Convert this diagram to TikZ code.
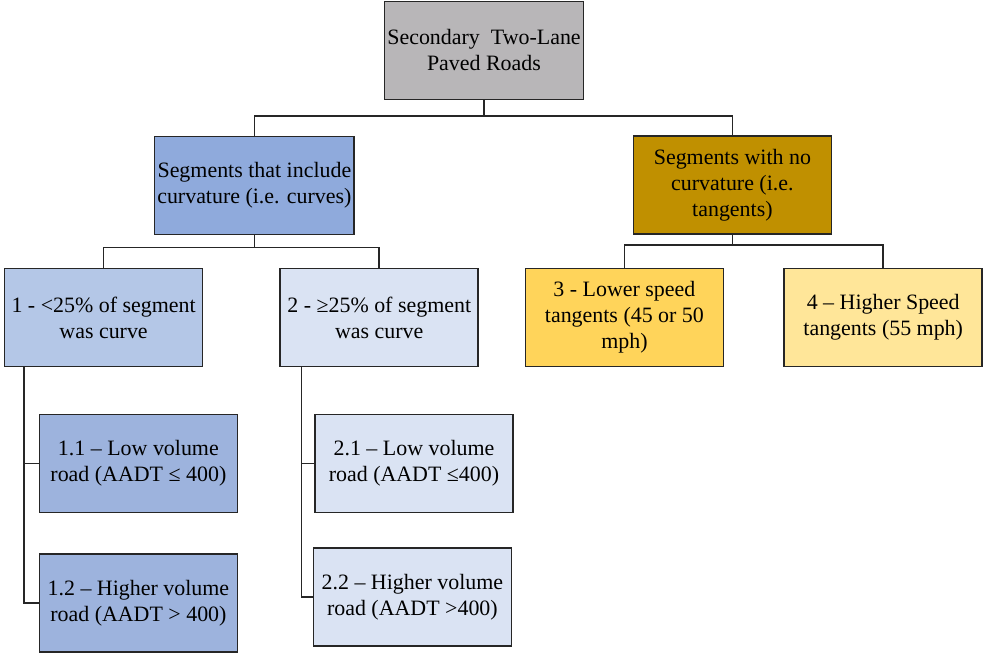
\documentclass[tikz,border=0pt]{standalone}
\usepackage{fontspec}
\setmainfont{Liberation Serif}
\usepackage{xcolor}

\definecolor{gris}{HTML}{B8B6B8}
\definecolor{azul}{HTML}{8FAADC}
\definecolor{azulclaro}{HTML}{B4C7E7}
\definecolor{azulpalido}{HTML}{DAE3F3}
\definecolor{azulmedio}{HTML}{9DB3DD}
\definecolor{oro}{HTML}{C09000}
\definecolor{amarillo}{HTML}{FFD45A}
\definecolor{amarilloclaro}{HTML}{FFE699}

\begin{document}
\begin{tikzpicture}[
    caja/.style={rectangle, draw=black!85, line width=1.2pt, align=center,
                 minimum width=4.95cm, minimum height=2.45cm, inner sep=2pt,
                 font=\fontsize{15.6}{18.5}\selectfont},
    linea/.style={draw=black!85, line width=1.1pt}]
    \useasboundingbox (0,0) rectangle (24.6,-16.325);

    % Nodos
    \node[caja, fill=gris] (R) at (12.1,-1.26) {Secondary\hspace{0.5em}Two-Lane\\Paved Roads};
    \node[caja, fill=azul] (C) at (6.36,-4.64) {Segments that include\\curvature (i.e. curves)};
    \node[caja, fill=oro] (T) at (18.31,-4.63) {Segments with no\\curvature (i.e.\\tangents)};

    \node[caja, fill=azulclaro] (C1) at (2.59,-7.94) {1 - <25\% of segment\\was curve};
    \node[caja, fill=azulpalido] (C2) at (9.48,-7.94) {2 - ≥25\% of segment\\was curve};
    \node[caja, fill=amarillo] (T3) at (15.61,-7.94) {3 - Lower speed\\tangents (45 or 50\\mph)};
    \node[caja, fill=amarilloclaro] (T4) at (22.08,-7.94) {4 – Higher Speed\\tangents (55 mph)};

    \node[caja, fill=azulmedio] (C11) at (3.46,-11.59) {1.1 – Low volume\\road (AADT ≤ 400)};
    \node[caja, fill=azulmedio] (C12) at (3.46,-15.08) {1.2 – Higher volume\\road (AADT > 400)};
    \node[caja, fill=azulpalido] (C21) at (10.35,-11.59) {2.1 – Low volume\\road (AADT ≤400)};
    \node[caja, fill=azulpalido] (C22) at (10.31,-14.93) {2.2 – Higher volume\\road (AADT >400)};

    % Conectores
    \draw[linea] (R.south) -- ++(0,-0.4) -| (C.north);
    \draw[linea] (R.south) -- ++(0,-0.4) -| (T.north);
    \draw[linea] (C.south) -- ++(0,-0.3) -| (C1.north);
    \draw[linea] (C.south) -- ++(0,-0.3) -| (C2.north);
    \draw[linea] (T.south) -- ++(0,-0.25) -| (T3.north);
    \draw[linea] (T.south) -- ++(0,-0.25) -| (T4.north);
    \draw[linea] ([xshift=0.5cm]C1.south west) |- (C11.west);
    \draw[linea] ([xshift=0.5cm]C1.south west) |- (C12.west);
    \draw[linea] ([xshift=0.55cm]C2.south west) |- (C21.west);
    \draw[linea] ([xshift=0.55cm]C2.south west) |- (C22.west);

\end{tikzpicture}
\end{document}
